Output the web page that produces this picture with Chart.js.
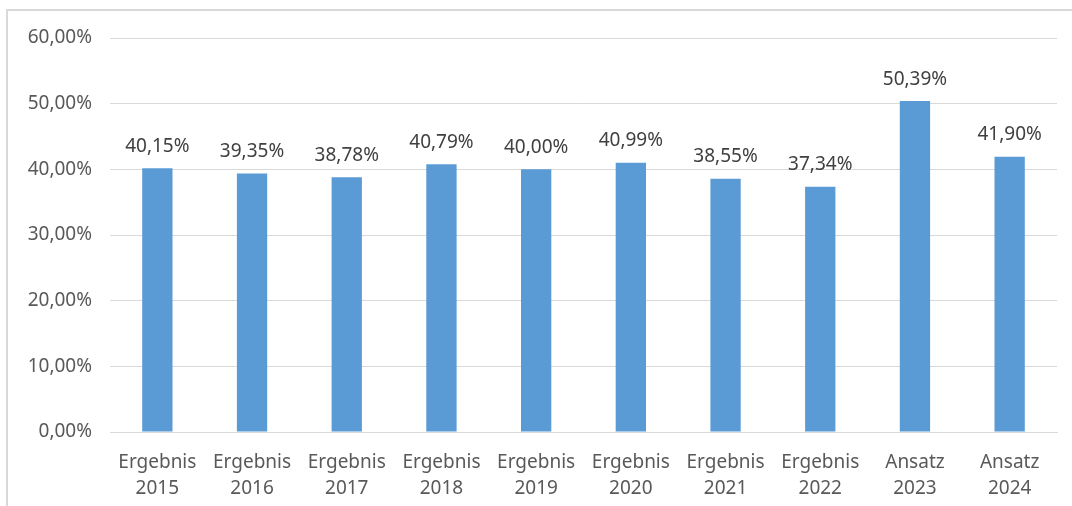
<!DOCTYPE html>
<html lang="de">
<head>
    <meta charset="UTF-8">
    <title>Ergebnis / Ansatz</title>
    <script src="https://cdn.jsdelivr.net/npm/chart.js"></script>
    <style>
        html, body { margin: 0; padding: 0; background: #fff; overflow: hidden; }
        #frame { position: absolute; left: 6px; top: 9px; width: 1200px; height: 700px; border: 2px solid #d9d9d9; }
        #chartContainer { position: absolute; left: 0; top: 0; width: 1072px; height: 506px; }
    </style>
</head>
<body>
    <div id="frame"></div>
    <div id="chartContainer">
        <canvas id="myChart" width="1072" height="506"></canvas>
    </div>
    <script>
        const kinds = ['Ergebnis', 'Ergebnis', 'Ergebnis', 'Ergebnis', 'Ergebnis', 'Ergebnis', 'Ergebnis', 'Ergebnis', 'Ansatz', 'Ansatz'];
        const years = ['2015', '2016', '2017', '2018', '2019', '2020', '2021', '2022', '2023', '2024'];
        const shares = [40.15, 39.35, 38.78, 40.79, 40.00, 40.99, 38.55, 37.34, 50.39, 41.90];

        const fmt = v => v.toFixed(2).replace('.', ',') + '%';

        // simple value labels above the bars
        const barLabels = {
            id: 'barLabels',
            afterDatasetsDraw(chart) {
                const ctx = chart.ctx;
                const meta = chart.getDatasetMeta(0);
                ctx.save();
                ctx.font = '19px "Noto Sans", sans-serif';
                ctx.fillStyle = '#404040';
                ctx.textAlign = 'center';
                ctx.textBaseline = 'middle';
                meta.data.forEach((bar, i) => {
                    ctx.fillText(fmt(shares[i]), bar.x, bar.y - 22);
                });
                ctx.restore();
            }
        };

        const ctx = document.getElementById('myChart').getContext('2d');
        new Chart(ctx, {
            type: 'bar',
            data: {
                labels: kinds.map((k, i) => [k, years[i]]),
                datasets: [{
                    data: shares,
                    backgroundColor: '#5b9bd5',
                    barPercentage: 0.32,
                    categoryPercentage: 1
                }]
            },
            options: {
                responsive: false,
                animation: false,
                layout: { padding: { top: 38, right: 15, left: 0, bottom: 0 } },
                scales: {
                    x: {
                        grid: { display: false, drawTicks: false },
                        border: { color: '#d9d9d9', width: 1 },
                        ticks: {
                            color: '#595959',
                            font: { family: '"Noto Sans", sans-serif', size: 19, lineHeight: 1.35 },
                            padding: 18,
                            maxRotation: 0
                        },
                        afterFit: s => { s.height = 74; }
                    },
                    y: {
                        min: 0,
                        max: 60,
                        grid: { color: '#d9d9d9', drawTicks: false },
                        border: { display: false },
                        ticks: {
                            stepSize: 10,
                            color: '#595959',
                            font: { family: '"Noto Sans", sans-serif', size: 19 },
                            padding: 18,
                            callback: v => fmt(v)
                        },
                        afterFit: s => { s.width = 110; }
                    }
                },
                plugins: {
                    legend: { display: false },
                    tooltip: { enabled: false }
                }
            },
            plugins: [barLabels]
        });
    </script>
</body>
</html>
